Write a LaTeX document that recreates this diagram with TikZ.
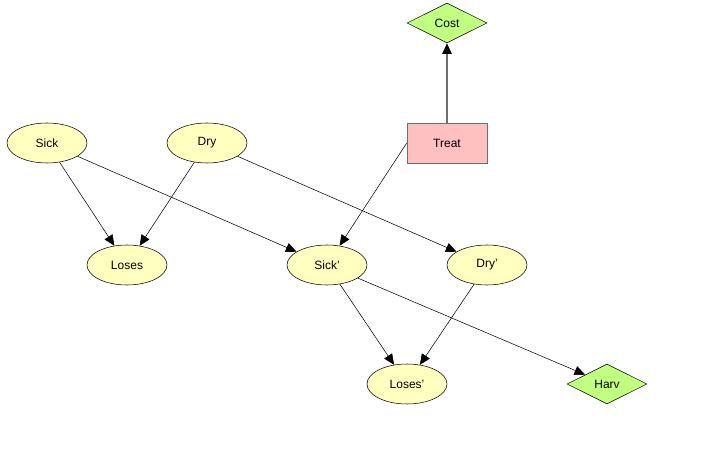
\documentclass[tikz,border=0pt]{standalone}
\usepackage{fontspec}
\setmainfont{Liberation Sans}
\usepackage{tikz}
\usetikzlibrary{shapes.geometric,arrows.meta}

\begin{document}
\begin{tikzpicture}[x=0.75pt,y=-0.75pt]
        \useasboundingbox (0,0) rectangle (724,459);

        \tikzstyle{chance}=[ellipse,draw,fill={rgb,255:red,255;green,255;blue,192},minimum width=60pt,minimum height=30pt,inner sep=0pt,font=\fontsize{9}{10}\selectfont]
        \tikzstyle{decision}=[rectangle,draw={rgb,255:red,110;green,110;blue,110},fill={rgb,255:red,255;green,192;blue,192},minimum width=60pt,minimum height=30pt,font=\fontsize{9}{10}\selectfont]
        \tikzstyle{utility}=[diamond,draw,fill={rgb,255:red,192;green,255;blue,128},minimum width=60pt,minimum height=30pt,aspect=2,inner sep=0pt,font=\fontsize{9}{10}\selectfont]
        \tikzstyle{link}=[-{Triangle[length=8pt,width=7pt,color=black]},thin]

        %% nodes of slice t
        \node [chance] (sick) at (47,143) {Sick};
        \node [chance] (dry) at (207,143) {Dry};
        \node [chance] (loses) at (127,265) {Loses};

        %% decision and costs
        \node [decision] (treat) at (447,143) {Treat};
        \node [utility] (cost) at (447,23) {Cost};

        %% nodes of slice t+1
        \node [chance] (sick2) at (327,265) {Sick'};
        \node [chance] (dry2) at (487,265) {Dry'};
        \node [chance] (loses2) at (407,384) {Loses'};
        \node [utility] (harv) at (607,384) {Harv};

        \draw [link] (sick) -- (loses);
        \draw [link] (dry) -- (loses);
        \draw [link] (sick) -- (sick2);
        \draw [link] (dry) -- (dry2);
        \draw [link] (treat.west) -- (sick2);
        \draw [link,draw={rgb,255:red,110;green,110;blue,110},line width=1.1pt] (treat) -- (cost);
        \draw [link] (sick2) -- (loses2);
        \draw [link] (dry2) -- (loses2);
        \draw [link] (sick2) -- (harv);

    \end{tikzpicture}
\end{document}
